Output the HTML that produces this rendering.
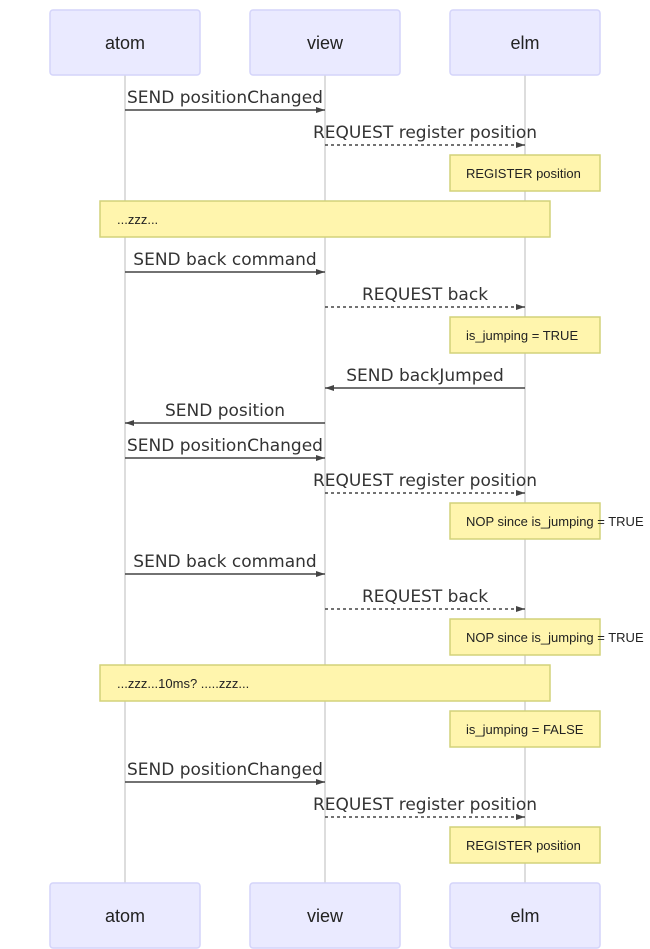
<!DOCTYPE html>
<html><head><meta charset="utf-8"><style>
html,body{margin:0;padding:0;background:#fff;}
svg{display:block;font-family:"Liberation Sans",sans-serif;}
.a{fill:#eaeaff;stroke:#d4d4fa;stroke-width:1.5}
.at{font-size:18px;fill:#222;text-anchor:middle}
.ll{stroke:#ddd;stroke-width:2}
.m{stroke:#444;stroke-width:1.5;fill:none}
.d{stroke:#444;stroke-width:1.5;fill:none;stroke-dasharray:3,3}
.ml{font-family:"DejaVu Sans",sans-serif;font-size:17px;fill:#333;text-anchor:middle}
.n{fill:#fff5ad;stroke:#d2d27a;stroke-width:1.5}
.nt{font-size:13px;fill:#222}
</style></head><body>
<svg width="650" height="949" viewBox="0 0 650 949">
<defs><marker id="ar" markerWidth="9" markerHeight="6" refX="9" refY="3" orient="auto" markerUnits="userSpaceOnUse"><path d="M0,0 L9,3 L0,6 z" fill="#444"/></marker></defs>
<line class="ll" x1="125" y1="75" x2="125" y2="883"/>
<line class="ll" x1="325" y1="75" x2="325" y2="883"/>
<line class="ll" x1="525" y1="75" x2="525" y2="883"/>
<rect class="a" x="50" y="10" width="150" height="65" rx="3"/><text class="at" x="125" y="49">atom</text>
<rect class="a" x="250" y="10" width="150" height="65" rx="3"/><text class="at" x="325" y="49">view</text>
<rect class="a" x="450" y="10" width="150" height="65" rx="3"/><text class="at" x="525" y="49">elm</text>
<rect class="a" x="50" y="883" width="150" height="65" rx="3"/><text class="at" x="125" y="922">atom</text>
<rect class="a" x="250" y="883" width="150" height="65" rx="3"/><text class="at" x="325" y="922">view</text>
<rect class="a" x="450" y="883" width="150" height="65" rx="3"/><text class="at" x="525" y="922">elm</text>

<text class="ml" x="225" y="103">SEND positionChanged</text><line class="m" x1="125" y1="110" x2="325" y2="110" marker-end="url(#ar)"/>
<text class="ml" x="425" y="138">REQUEST register position</text><line class="d" x1="325" y1="145" x2="525" y2="145" marker-end="url(#ar)"/>
<rect class="n" x="450" y="155" width="150" height="36"/><text class="nt" x="466" y="178">REGISTER position</text>
<rect class="n" x="100" y="201" width="450" height="36"/><text class="nt" x="117" y="224">...zzz...</text>
<text class="ml" x="225" y="265">SEND back command</text><line class="m" x1="125" y1="272" x2="325" y2="272" marker-end="url(#ar)"/>
<text class="ml" x="425" y="300">REQUEST back</text><line class="d" x1="325" y1="307" x2="525" y2="307" marker-end="url(#ar)"/>
<rect class="n" x="450" y="317" width="150" height="36"/><text class="nt" x="466" y="340">is_jumping = TRUE</text>
<text class="ml" x="425" y="381">SEND backJumped</text><line class="m" x1="525" y1="388" x2="325" y2="388" marker-end="url(#ar)"/>
<text class="ml" x="225" y="416">SEND position</text><line class="m" x1="325" y1="423" x2="125" y2="423" marker-end="url(#ar)"/>
<text class="ml" x="225" y="451">SEND positionChanged</text><line class="m" x1="125" y1="458" x2="325" y2="458" marker-end="url(#ar)"/>
<text class="ml" x="425" y="486">REQUEST register position</text><line class="d" x1="325" y1="493" x2="525" y2="493" marker-end="url(#ar)"/>
<rect class="n" x="450" y="503" width="150" height="36"/><text class="nt" x="466" y="526">NOP since is_jumping = TRUE</text>
<text class="ml" x="225" y="567">SEND back command</text><line class="m" x1="125" y1="574" x2="325" y2="574" marker-end="url(#ar)"/>
<text class="ml" x="425" y="602">REQUEST back</text><line class="d" x1="325" y1="609" x2="525" y2="609" marker-end="url(#ar)"/>
<rect class="n" x="450" y="619" width="150" height="36"/><text class="nt" x="466" y="642">NOP since is_jumping = TRUE</text>
<rect class="n" x="100" y="665" width="450" height="36"/><text class="nt" x="117" y="688">...zzz...10ms? .....zzz...</text>
<rect class="n" x="450" y="711" width="150" height="36"/><text class="nt" x="466" y="734">is_jumping = FALSE</text>
<text class="ml" x="225" y="775">SEND positionChanged</text><line class="m" x1="125" y1="782" x2="325" y2="782" marker-end="url(#ar)"/>
<text class="ml" x="425" y="810">REQUEST register position</text><line class="d" x1="325" y1="817" x2="525" y2="817" marker-end="url(#ar)"/>
<rect class="n" x="450" y="827" width="150" height="36"/><text class="nt" x="466" y="850">REGISTER position</text>
</svg>
</body></html>
